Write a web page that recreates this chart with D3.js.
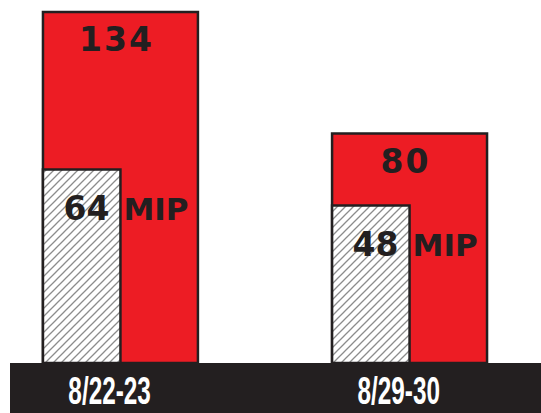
<!DOCTYPE html>
<html>
<head>
<meta charset="utf-8">
<script src="https://cdn.jsdelivr.net/npm/d3@7"></script>
<style>
  body { margin: 0; background: #fff; }
</style>
</head>
<body>
<div id="chart"></div>
<script>
// weekend dates along the bottom
var dates = ["8/22-23", "8/29-30"];
// total count (red bar) and MIP count (hatched bar)
var totals = [134, 80];
var mips = [64, 48];

var width = 541, height = 413;
var base = 363; // top of the dark date strip
var ink = "#231f20";

var svg = d3.select("#chart").append("svg")
    .attr("width", width)
    .attr("height", height);

// hatch for the MIP bars
var pat = svg.append("defs").append("pattern")
    .attr("id", "hatch")
    .attr("patternUnits", "userSpaceOnUse")
    .attr("width", 8).attr("height", 8);
pat.append("rect").attr("width", 8).attr("height", 8).attr("fill", "#fff");
pat.append("path")
    .attr("d", "M0,8 L8,0 M-2,2 L2,-2 M6,10 L10,6")
    .attr("stroke", "#8c8c8c")
    .attr("stroke-width", 1.3);

var x = d3.scaleBand()
    .domain(dates)
    .range([10, 520])
    .paddingInner(0.464)
    .paddingOuter(0.114);

// infographic is not drawn to zero, so the axis starts below it
var y = d3.scaleLinear()
    .domain([-22, 134])
    .range([base, 12]);

var bw = x.bandwidth();

// red total bars
svg.selectAll("rect.total").data(dates).enter().append("rect")
    .attr("class", "total")
    .attr("x", function(d) { return x(d); })
    .attr("y", function(d, i) { return y(totals[i]); })
    .attr("width", bw)
    .attr("height", function(d, i) { return base - y(totals[i]); })
    .attr("fill", "#ed1c24")
    .attr("stroke", ink)
    .attr("stroke-width", 2.5);

// hatched MIP bars, left half of each
svg.selectAll("rect.mip").data(dates).enter().append("rect")
    .attr("class", "mip")
    .attr("x", function(d) { return x(d); })
    .attr("y", function(d, i) { return y(mips[i]); })
    .attr("width", bw / 2)
    .attr("height", function(d, i) { return base - y(mips[i]); })
    .attr("fill", "url(#hatch)")
    .attr("stroke", ink)
    .attr("stroke-width", 2.5);

// total labels
svg.selectAll("text.total").data(dates).enter().append("text")
    .attr("class", "total")
    .attr("x", function(d) { return x(d) + bw / 2 - 4; })
    .attr("y", function(d, i) { return y(totals[i]) + 39; })
    .attr("text-anchor", "middle")
    .style("font-family", "DejaVu Sans")
    .style("font-weight", "bold")
    .style("font-size", "33px")
    .style("letter-spacing", "2px")
    .attr("fill", ink)
    .text(function(d, i) { return totals[i]; });

// MIP numbers, ending just inside the hatched bar
svg.selectAll("text.mipnum").data(dates).enter().append("text")
    .attr("class", "mipnum")
    .attr("x", function(d) { return x(d) + bw / 2 - 11; })
    .attr("y", function(d, i) { return y(mips[i]) + 50; })
    .attr("text-anchor", "end")
    .style("font-family", "DejaVu Sans")
    .style("font-weight", "bold")
    .style("font-size", "33px")
    .attr("fill", ink)
    .text(function(d, i) { return mips[i]; });

svg.selectAll("text.mipword").data(dates).enter().append("text")
    .attr("class", "mipword")
    .attr("x", function(d) { return x(d) + bw / 2 + 3; })
    .attr("y", function(d, i) { return y(mips[i]) + 50; })
    .style("font-family", "DejaVu Sans")
    .style("font-weight", "bold")
    .style("font-size", "31px")
    .attr("fill", ink)
    .text("MIP");

// dark date strip
svg.append("rect")
    .attr("x", 10).attr("y", base)
    .attr("width", width - 10).attr("height", height - base)
    .attr("fill", ink);

svg.selectAll("text.date").data(dates).enter().append("text")
    .attr("class", "date")
    .attr("transform", function(d) {
        return "translate(" + (x(d) + bw * 0.43) + "," + 404 + ") scale(0.64,1)";
    })
    .attr("text-anchor", "middle")
    .style("font-family", "Liberation Sans")
    .style("font-weight", "bold")
    .style("font-size", "38px")
    .attr("fill", "#fff")
    .text(function(d) { return d; });
</script>
</body>
</html>
